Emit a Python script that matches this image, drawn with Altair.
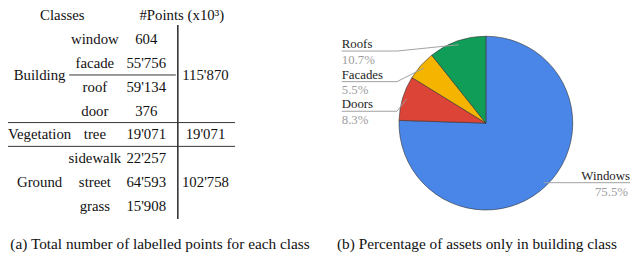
import altair as alt
import numpy as np
import pandas as pd

# ---------------- data ----------------
headers = ["Classes", "#Points (x10³)"]
groups = ["Building", "Vegetation", "Ground"]
group_totals = [115870, 19071, 102758]
classes = ["window", "facade", "roof", "door", "tree", "sidewalk", "street", "grass"]
class_group = ["Building", "Building", "Building", "Building", "Vegetation",
               "Ground", "Ground", "Ground"]
class_points = [604, 55756, 59134, 376, 19071, 22257, 64593, 15908]

pie_labels = ["Windows", "Doors", "Facades", "Roofs"]
pie_shares = [75.5, 8.3, 5.5, 10.7]
pie_colors = ["#4a86e8", "#db4437", "#f4b400", "#0f9d58"]

caption_a = "(a) Total number of labelled points for each class"
caption_b = "(b) Percentage of assets only in building class"

# ---------------- layout (page pixel coordinates) ----------------
W, H = 632, 247
ROW0, ROW_STEP = 14.0, 24.1
COL_GROUP, COL_CLASS, COL_POINTS, COL_TOTAL = 40, 96, 148, 208
HEAD_X = [63, 184]
SERIF = "Liberation Serif"
TABLE_SIZE = 15
PIE_CX, PIE_CY, PIE_R = 492, 123, 88
LABEL_X, KNEE_X, RIGHT_X = 346, 402, 638
LEFT_LINE_Y = {"Roofs": 50, "Facades": 81, "Doors": 111}


def row_y(i):
    return ROW0 + i * ROW_STEP


def fmt(v):
    return f"{v:,}".replace(",", "'")


def text_layer(df, size=TABLE_SIZE, align="center", color="#111111"):
    return alt.Chart(df).mark_text(
        font=SERIF, fontSize=size, align=align, baseline="middle", color=color
    ).encode(x=alt.X("x:Q", scale=xs, axis=None), y=alt.Y("y:Q", scale=ys, axis=None),
             text="t:N")


xs = alt.Scale(domain=[8, 8 + W], range=[0, W], nice=False, zero=False)
ys = alt.Scale(domain=[8, 8 + H], range=[0, H], nice=False, zero=False)

# ---------------- table ----------------
head_df = pd.DataFrame({"t": headers, "x": HEAD_X, "y": [row_y(0)] * 2})
cls_rows = list(range(1, len(classes) + 1))
cls_df = pd.DataFrame({"t": classes, "x": COL_CLASS, "y": [row_y(i) for i in cls_rows]})
pts_df = pd.DataFrame({"t": [fmt(v) for v in class_points], "x": COL_POINTS,
                       "y": [row_y(i) for i in cls_rows]})
grp_y = [float(np.mean([row_y(i) for i, g in zip(cls_rows, class_group) if g == grp]))
         for grp in groups]
grp_df = pd.DataFrame({"t": groups, "x": COL_GROUP, "y": grp_y})
tot_df = pd.DataFrame({"t": [fmt(v) for v in group_totals], "x": COL_TOTAL, "y": grp_y})

rules_df = pd.DataFrame({
    "x":  [180, 70, 8, 8],
    "x2": [180, 178, 238, 238],
    "y":  [row_y(0.4), row_y(2.5), row_y(4.5), row_y(5.5)],
    "y2": [row_y(8.55), row_y(2.5), row_y(4.5), row_y(5.5)],
    "w":  [1.6, 1.0, 1.0, 1.0],
})
rules = alt.Chart(rules_df).mark_rule(color="#333333").encode(
    x=alt.X("x:Q", scale=xs, axis=None), x2="x2:Q",
    y=alt.Y("y:Q", scale=ys, axis=None), y2="y2:Q",
    strokeWidth=alt.StrokeWidth("w:Q", scale=None),
)

cap_a = text_layer(pd.DataFrame({"t": [caption_a], "x": [162], "y": [246]}), size=15.5)
cap_b = text_layer(pd.DataFrame({"t": [caption_b], "x": [483], "y": [245]}), size=15.5)

# ---------------- pie ----------------
pie_df = pd.DataFrame({"label": pie_labels, "share": pie_shares,
                       "idx": range(len(pie_labels))})
pie = alt.Chart(pie_df).mark_arc(radius=PIE_R, stroke="#333333", strokeWidth=0.6).encode(
    theta=alt.Theta("share:Q", stack=True),
    order=alt.Order("idx:Q"),
    color=alt.Color("label:N", scale=alt.Scale(domain=pie_labels, range=pie_colors),
                    legend=None),
    x=alt.X(datum=PIE_CX, type="quantitative", scale=xs, axis=None),
    y=alt.Y(datum=PIE_CY, type="quantitative", scale=ys, axis=None),
)

cum = np.cumsum(pie_shares) - np.array(pie_shares) / 2.0
ang = 2 * np.pi * cum / 100.0
ax_ = PIE_CX + 0.955 * PIE_R * np.sin(ang)
ay_ = PIE_CY - 0.955 * PIE_R * np.cos(ang)

lead_rows, lab_rows, val_rows = [], [], []
for lab, s, px, py in zip(pie_labels, pie_shares, ax_, ay_):
    if lab in LEFT_LINE_Y:
        ly = LEFT_LINE_Y[lab]
        pts = [(px, py), (KNEE_X, ly), (LABEL_X, ly)]
        lab_rows.append((lab, LABEL_X, ly - 7, "left"))
        val_rows.append((f"{s}%", LABEL_X, ly + 9, "left"))
    else:
        ly = py
        pts = [(px, py), (RIGHT_X, ly)]
        lab_rows.append((lab, RIGHT_X, ly - 7, "right"))
        val_rows.append((f"{s}%", RIGHT_X - 2, ly + 9, "right"))
    for k, (xx, yy) in enumerate(pts):
        lead_rows.append({"label": lab, "seq": k, "x": float(xx), "y": float(yy)})

lead = alt.Chart(pd.DataFrame(lead_rows)).mark_line(color="#a0a0a0", strokeWidth=1).encode(
    x=alt.X("x:Q", scale=xs, axis=None), y=alt.Y("y:Q", scale=ys, axis=None),
    detail="label:N", order="seq:Q")

lab_df = pd.DataFrame(lab_rows, columns=["t", "x", "y", "a"])
val_df = pd.DataFrame(val_rows, columns=["t", "x", "y", "a"])
layers = []
for a in ["left", "right"]:
    layers.append(text_layer(lab_df[lab_df.a == a], size=13, align=a, color="#222222"))
    layers.append(text_layer(val_df[val_df.a == a], size=13, align=a, color="#9e9e9e"))

chart = alt.layer(
    rules,
    text_layer(head_df), text_layer(grp_df), text_layer(cls_df),
    text_layer(pts_df), text_layer(tot_df),
    cap_a, cap_b, pie, lead, *layers,
).properties(
    width=W, height=H, padding=0, autosize=alt.AutoSizeParams(type="none")
).configure(font=SERIF).configure_text(font=SERIF).configure_view(stroke=None)

chart.save("out.html", embed_options={"renderer": "svg", "actions": False})
